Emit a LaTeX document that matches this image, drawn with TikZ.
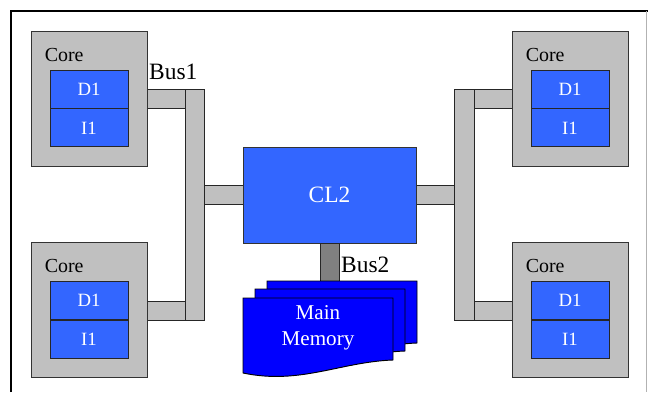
\documentclass[tikz,border=0pt]{standalone}
\usepackage{fontspec}
\setmainfont{Liberation Serif}
\usetikzlibrary{calc,positioning}

\definecolor{coregray}{HTML}{C0C0C0}
\definecolor{busgray}{HTML}{808080}
\definecolor{cacheblue}{HTML}{3366FF}
\definecolor{memblue}{HTML}{0000FF}

\tikzset{
  corebox/.style={draw=black!80, fill=coregray, line width=0.8pt, minimum width=3.48cm, minimum height=4.05cm, inner sep=0pt},
  cachebox/.style={draw=black!85, fill=cacheblue, line width=0.8pt, minimum width=2.34cm, minimum height=1.14cm, inner sep=0pt, text=white, font=\fontsize{16}{19}\selectfont},
  l2box/.style={fill=cacheblue, draw=black!80, line width=0.8pt, minimum width=5.19cm, minimum height=2.88cm, inner sep=0pt, text=white, font=\fontsize{20}{24}\selectfont},
  busbar/.style={draw=black!85, fill=coregray, line width=0.8pt},
  lbl/.style={inner sep=0pt, font=\fontsize{17}{20}\selectfont},
  buslbl/.style={inner sep=0pt, anchor=west, font=\fontsize{20}{24}\selectfont},
}

\begin{document}
\begin{tikzpicture}[x=0.03cm, y=-0.03cm]

  % Rahmen
  \useasboundingbox (0,0) rectangle (648,392);
  \fill[white] (0,0) rectangle (648,392);
  \draw[black, line width=1pt] (11,392) -- (11,11) -- (648,11);
  \draw[black!30, line width=0.6pt] (646,11) -- (646,392);

  % Busse links und rechts
  \draw[busbar] (147,89) rectangle (185,108);
  \draw[busbar] (147,301) rectangle (185,320);
  \draw[busbar] (204,185) rectangle (243,204);
  \draw[busbar] (185,89) rectangle (204,320);
  \draw[busbar] (474,89) rectangle (512,108);
  \draw[busbar] (474,301) rectangle (512,320);
  \draw[busbar] (416,185) rectangle (454,204);
  \draw[busbar] (454,89) rectangle (474,320);

  % Cores mit D1 und I1
  \foreach \n/\cx/\cy in {a/89/98.5, b/89/310, c/570/98.5, d/570/310} {
      \node[corebox] (core\n) at (\cx,\cy) {};
      \node[lbl, anchor=west] at ($(core\n.north west)+(14,24)$) {Core};
      \node[cachebox] (dc\n) at (\cx,\cy-9.5) {D1};
      \node[cachebox, below=0pt of dc\n] (ic\n) {I1};
    }

  % L2-Cache
  \node[l2box] (cl2) at (329.5,195) {CL2};

  % Bus2 zum Hauptspeicher
  \draw[draw=black!85, fill=busgray, line width=0.8pt] (320,243) rectangle (339,281);

  % Hauptspeicher (drei Blaetter)
  \foreach \dx/\dy in {24/-17, 12/-9, 0/0} {
      \draw[fill=memblue, draw=black, line width=0.8pt]
        (243+\dx,298+\dy) -- (393+\dx,298+\dy) -- (393+\dx,360+\dy)
        .. controls (340+\dx,362+\dy) and (300+\dx,385+\dy) .. (243+\dx,373+\dy) -- cycle;
    }
  \node[align=center, text=white, inner sep=0pt, font=\fontsize{18}{22}\selectfont] (mem) at (318,328) {Main\\Memory};

  % Beschriftungen
  \node[buslbl] (bus1) at (149,72) {Bus1};
  \node[buslbl] (bus2) at (341,265) {Bus2};

\end{tikzpicture}
\end{document}
